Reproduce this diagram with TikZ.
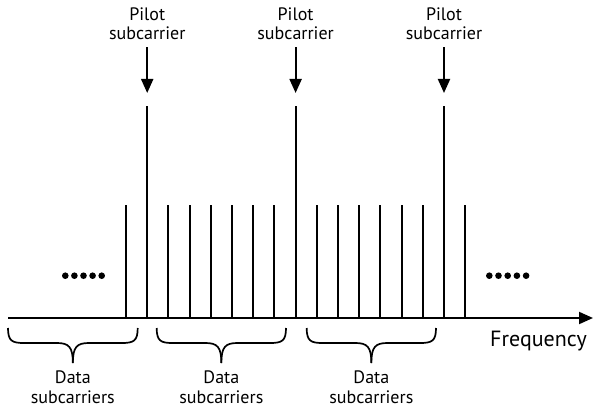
\documentclass[tikz,border=0pt]{standalone}
\usepackage{fontspec}
\setmainfont{PT Sans}
\usetikzlibrary{arrows.meta}
\begin{document}
\begin{tikzpicture}[x=1pt,y=-1pt,
  carrier/.style={line width=2.1pt},
  arr/.style={line width=2pt,-{Triangle[length=14pt,width=12pt]}},
  lbl/.style={font=\fontsize{18}{19.5}\selectfont, align=center, inner sep=0pt, anchor=north},
  brc/.style={line width=1.7pt},
  dotf/.style={fill=black}]
\useasboundingbox (0,0) rectangle (594,409);
% axis
\coordinate (a0) at (8,318);
\coordinate (a1) at (593,318);
\draw[arr] (a0) -- (a1);
\node[font=\fontsize{22}{24}\selectfont, anchor=base west, inner sep=0pt] (freq) at (490,346) {Frequency};
% subcarriers
\foreach \k in {0,...,16}{
  \pgfmathsetmacro{\xx}{126+21.2*\k}
  \ifnum\k=1 \def\tp{106}\else\ifnum\k=8 \def\tp{106}\else\ifnum\k=15 \def\tp{106}\else\def\tp{205}\fi\fi\fi
  \coordinate (b\k) at (\xx,318);
  \coordinate (t\k) at (\xx,\tp);
  \draw[carrier] (b\k) -- (t\k);
}
% pilot labels and arrows
\foreach \k/\n in {1/pa,8/pb,15/pc}{
  \node[lbl] (\n) at ([yshift=-7.5pt]t\k |- 0,0) {Pilot\\subcarrier};
  \draw[arr, shorten <=7pt, shorten >=13pt] (\n.south) -- (t\k);
}
% dots
\foreach \i in {0,...,4}{
  \fill[dotf] (65.3+9.1*\i,275.7) circle (3.3);
  \fill[dotf] (489.3+9.2*\i,275.7) circle (3.3);
}
% braces
\foreach \l/\r/\n in {8/137.7/da,156.7/286/db,306.7/436/dc}{
  \pgfmathsetmacro{\m}{(\l+\r)/2}
  \draw[brc] (\l,328) .. controls (\l,341) and (\l+4,343) .. (\l+16,343)
    -- (\m-16,343) .. controls (\m-4,343) and (\m,347) .. (\m,363);
  \draw[brc] (\r,328) .. controls (\r,341) and (\r-4,343) .. (\r-16,343)
    -- (\m+16,343) .. controls (\m+4,343) and (\m,347) .. (\m,363);
  \node[lbl] (\n) at (\m,371) {Data\\subcarriers};
}
\end{tikzpicture}
\end{document}
